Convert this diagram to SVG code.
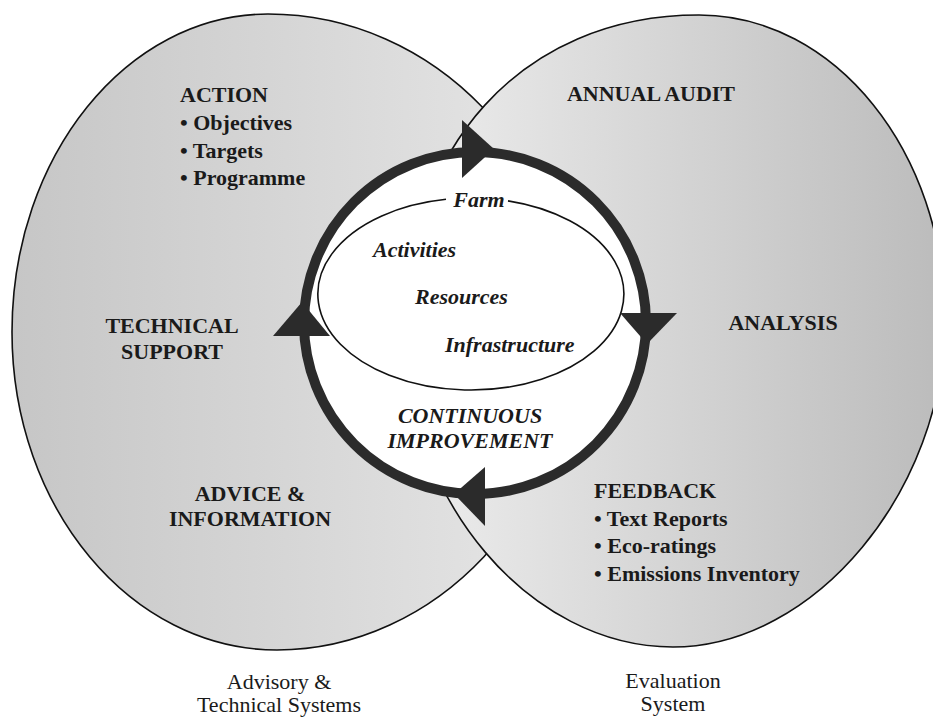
<svg xmlns="http://www.w3.org/2000/svg" width="933" height="718" viewBox="0 0 933 718">
<style>
.shape{stroke:#111;stroke-width:1.6}
.lbl{font-family:"Liberation Serif","Times New Roman",serif;font-weight:bold;font-size:22px;fill:#1a1a1a}
.it{font-family:"Liberation Serif","Times New Roman",serif;font-weight:bold;font-style:italic;font-size:22px;fill:#1a1a1a}
.cap{font-family:"Liberation Serif","Times New Roman",serif;font-size:22px;fill:#1a1a1a}
.mid{text-anchor:middle}
.head{fill:#2b2b2b}
</style>
<defs>
<linearGradient id="gL" gradientUnits="userSpaceOnUse" x1="12" y1="0" x2="560" y2="0">
<stop offset="0" stop-color="#c6c6c6"/>
<stop offset="1" stop-color="#e6e6e6"/>
</linearGradient>
<linearGradient id="gR" gradientUnits="userSpaceOnUse" x1="420" y1="0" x2="940" y2="0">
<stop offset="0" stop-color="#ececec"/>
<stop offset="1" stop-color="#bcbcbc"/>
</linearGradient>
</defs>
<rect width="933" height="718" fill="#ffffff"/>
<g id="advisory">
<path class="shape" fill="url(#gL)" d="M268,14 C434,14 572,156 572,332 C572,508 435,650 277,650 C131,650 12,508 12,332 C12,156 127,14 268,14 Z"/>
</g>
<g id="evaluation">
<path class="shape" fill="url(#gR)" d="M699,15 C835,15 945,152 945,320 C945,490 815,647 673,647 C530,647 405,500 405,331 C405,150 520,15 699,15 Z"/>
</g>
<g id="cycle">
<circle cx="475" cy="323" r="171" fill="#ffffff"/>
</g>
<g id="farm">
<path d="M446,199.3 A153,96 0 1,0 508,200.9" fill="none" stroke="#111" stroke-width="1.6"/>
<text class="it mid" x="479" y="207">Farm</text>
<text class="it" x="373" y="257">Activities</text>
<text class="it" x="415" y="304">Resources</text>
<text class="it" x="445" y="352">Infrastructure</text>
</g>
<g id="connectors">
<circle cx="475" cy="323" r="171" fill="none" stroke="#2b2b2b" stroke-width="10"/>
<polygon class="head" points="462,120 462,178 494,149"/>
<polygon class="head" points="620,313 677,313 647,344"/>
<polygon class="head" points="485,467 485,526 454,494"/>
<polygon class="head" points="273,336 330,336 302,302"/>
</g>
<g id="improvement">
<text class="it mid" x="470" y="423">CONTINUOUS</text>
<text class="it mid" x="470" y="448">IMPROVEMENT</text>
</g>
<g id="action">
<text class="lbl" x="180" y="102">ACTION</text>
<text class="lbl" x="180" y="130">• Objectives</text>
<text class="lbl" x="180" y="158">• Targets</text>
<text class="lbl" x="180" y="185">• Programme</text>
</g>
<g id="annual-audit">
<text class="lbl mid" x="651" y="101">ANNUAL AUDIT</text>
</g>
<g id="technical-support">
<text class="lbl mid" x="172" y="333">TECHNICAL</text>
<text class="lbl mid" x="172" y="359">SUPPORT</text>
</g>
<g id="analysis">
<text class="lbl mid" x="783" y="330">ANALYSIS</text>
</g>
<g id="advice">
<text class="lbl mid" x="250" y="501">ADVICE &amp;</text>
<text class="lbl mid" x="250" y="526">INFORMATION</text>
</g>
<g id="feedback">
<text class="lbl" x="594" y="498">FEEDBACK</text>
<text class="lbl" x="594" y="526">• Text Reports</text>
<text class="lbl" x="594" y="553">• Eco-ratings</text>
<text class="lbl" x="594" y="581">• Emissions Inventory</text>
</g>
<g id="captions">
<text class="cap mid" x="279" y="689">Advisory &amp;</text>
<text class="cap mid" x="279" y="712">Technical Systems</text>
<text class="cap mid" x="673" y="688">Evaluation</text>
<text class="cap mid" x="673" y="711">System</text>
</g>
</svg>
